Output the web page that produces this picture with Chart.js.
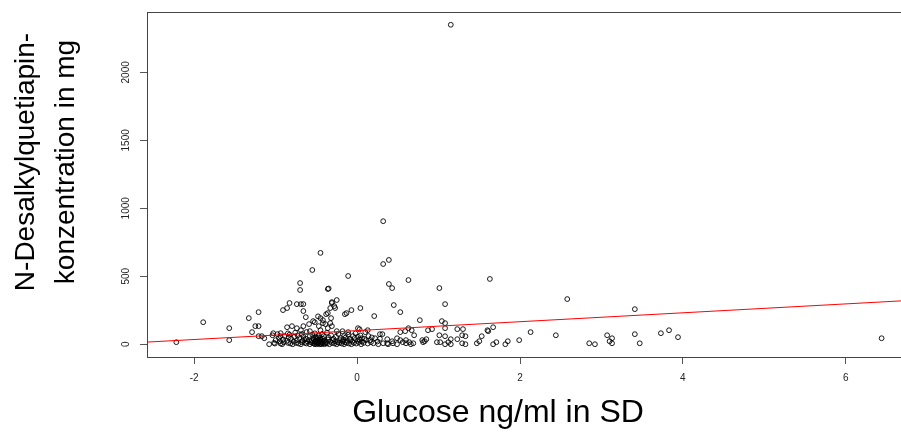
<!DOCTYPE html>
<html><head><meta charset="utf-8">
<script src="https://cdn.jsdelivr.net/npm/chart.js@4/dist/chart.umd.min.js"></script>
<style>html,body{margin:0;padding:0;background:#fff;overflow:hidden;width:901px;height:437px}canvas{display:block}</style>
</head><body>
<canvas id="c" width="920" height="437"></canvas>
<script>
// Glucose (SD units) per patient
const glucoseSD = [
 -2.22,-1.89,-1.57,-1.57,-1.33,-1.21,-1.25,-1.21,-1.29,-1.21,
 -1.17,-1.14,-1.08,-1.04,-1.03,-1.01,-0.98,-0.94,-0.91,-0.86,
 -0.83,-0.86,-0.80,-0.74,-0.69,-0.66,-0.66,-0.63,-0.70,-0.70,
 -0.55,-0.45,-0.36,-0.35,-0.11,-0.31,-0.28,-0.25,-0.33,-0.38,
 -0.32,-0.15,-0.07,0.04,0.21,-0.45,-0.42,-0.42,-0.59,-0.54,
 0.01,0.28,-0.31,-0.27,-0.13,-0.36,-0.48,-0.39,-0.33,-0.31,
 -0.47,-0.52,-0.66,-0.74,-0.69,-0.58,-0.45,-0.36,-0.25,0.03,
 -0.94,-0.18,-0.11,0.10,0.13,1.15,0.32,0.32,0.39,0.39,
 0.43,0.63,0.45,0.53,1.01,1.08,1.63,2.58,3.41,0.77,
 1.04,1.08,0.87,0.92,1.23,1.30,1.60,1.67,2.13,2.44,
 2.85,2.92,3.07,3.13,3.10,3.13,3.41,3.47,3.73,3.83,
 3.94,6.44,1.01,1.08,1.15,1.23,1.29,1.33,1.29,1.33,
 0.98,1.02,1.08,1.12,1.15,0.81,0.83,1.47,1.50,1.53,
 1.67,1.71,1.82,1.85,1.99,1.61,1.08,0.53,0.59,0.63,
 0.67,0.70,0.49,0.53,0.60,0.64,0.66,0.49,0.43,0.37,
 0.38,0.31,0.32,0.22,0.11,0.06,0.16,0.20,0.37,0.44,
 0.56,0.60,0.69,0.80,0.85,
 -1.00,-1.02,-0.95,-0.96,-0.94,-0.90,-0.91,-0.89,-0.92,-0.85,
 -0.86,-0.84,-0.85,-0.82,-0.81,-0.83,-0.78,-0.79,-0.77,-0.75,
 -0.74,-0.76,-0.72,-0.71,-0.73,-0.68,-0.67,-0.69,-0.68,-0.65,
 -0.64,-0.66,-0.62,-0.61,-0.63,-0.62,-0.58,-0.57,-0.59,-0.58,
 -0.55,-0.56,-0.54,-0.55,-0.52,-0.53,-0.51,-0.52,-0.53,-0.51,
 -0.52,-0.50,-0.49,-0.50,-0.51,-0.50,-0.48,-0.47,-0.48,-0.49,
 -0.48,-0.47,-0.46,-0.45,-0.46,-0.47,-0.46,-0.44,-0.43,-0.44,
 -0.44,-0.45,-0.43,-0.42,-0.41,-0.42,-0.40,-0.39,-0.40,-0.41,
 -0.37,-0.38,-0.36,-0.37,-0.34,-0.33,-0.35,-0.31,-0.30,-0.32,
 -0.28,-0.27,-0.29,-0.25,-0.24,-0.26,-0.22,-0.21,-0.23,-0.19,
 -0.18,-0.20,-0.16,-0.15,-0.17,-0.16,-0.13,-0.12,-0.14,-0.10,
 -0.09,-0.11,-0.07,-0.06,-0.08,-0.04,-0.03,-0.05,-0.01,0.00,
 -0.02,0.02,0.03,0.01,0.05,0.06,0.04,0.08,0.09,0.13,
 0.14,0.17,0.18,0.25,0.26,0.28
];
// N-Desalkylquetiapin concentration (mg) per patient
const concentration = [
 15,162,118,30,192,236,133,133,89,59,
 59,44,0,66,81,5,74,59,251,266,
 303,125,133,295,295,295,244,199,450,399,
 546,672,406,410,502,303,280,325,266,221,
 192,221,251,266,207,192,177,155,148,170,
 118,74,310,266,229,229,205,148,155,133,
 133,162,133,118,103,96,103,118,96,110,
 81,96,89,89,103,2350,905,590,620,443,
 413,472,288,236,413,295,480,332,258,177,
 170,155,103,111,111,111,103,125,89,66,
 7,0,66,44,22,7,74,7,81,103,
 52,44,66,59,37,37,66,59,7,0,
 15,15,0,15,0,15,22,7,22,59,
 0,15,0,22,30,96,118,89,96,118,
 103,66,44,30,30,15,0,0,22,37,
 0,74,7,44,30,44,30,7,7,7,
 15,7,7,30,37,
 30,10,20,45,5,15,35,60,0,10,
 25,50,80,5,40,70,20,0,55,10,
 30,85,5,45,65,15,25,0,75,35,
 10,55,5,20,40,90,0,15,30,60,
 10,25,45,70,0,5,15,20,35,55,
 80,0,10,20,25,40,5,10,15,30,
 50,65,0,5,20,25,35,0,10,15,
 30,45,75,5,20,40,0,10,25,60,
 5,15,35,85,0,20,50,10,30,65,
 5,20,40,0,15,55,10,30,75,5,
 20,45,0,15,35,60,10,25,50,5,
 40,70,0,20,30,10,45,60,5,25,
 80,15,35,55,0,20,65,10,40,5,
 60,15,50,20,0,40
];
// Fitted regression line end points
const fitX = [-2.6, 6.9];
const fitY = [15, 326];

const xTicks = [-2, 0, 2, 4, 6];
const yTicks = [0, 500, 1000, 1500, 2000];
const xTitle = 'Glucose ng/ml in SD';
const yTitleLines = ['N-Desalkylquetiapin-', 'konzentration in mg'];

const FONT = '"Liberation Sans", Arial, sans-serif';

const points = glucoseSD.map((x, i) => ({x: x, y: concentration[i]}));
const fitLine = fitX.map((x, i) => ({x: x, y: fitY[i]}));

const framePlugin = {
  id: 'frame',
  afterDraw(chart) {
    const {ctx, chartArea: a, scales: {y}} = chart;
    ctx.save();
    ctx.strokeStyle = '#444';
    ctx.lineWidth = 1;
    ctx.strokeRect(Math.round(a.left) + 0.5, Math.round(a.top) + 0.5,
                   Math.round(a.right - a.left), Math.round(a.bottom - a.top));
    ctx.fillStyle = '#222';
    ctx.font = '10px ' + FONT;
    ctx.textAlign = 'center';
    ctx.textBaseline = 'middle';
    yTicks.forEach(v => {
      const py = y.getPixelForValue(v);
      ctx.save();
      ctx.translate(a.left - 21, py);
      ctx.rotate(-Math.PI / 2);
      ctx.fillText(String(v), 0, 0);
      ctx.restore();
    });
    ctx.fillStyle = '#000';
    ctx.font = '32px ' + FONT;
    ctx.textAlign = 'center';
    ctx.textBaseline = 'middle';
    ctx.fillText(xTitle, 498, 413);
    ctx.font = '28px ' + FONT;
    [26, 66].forEach((px, i) => {
      ctx.save();
      ctx.translate(px, 162);
      ctx.rotate(-Math.PI / 2);
      ctx.fillText(yTitleLines[i], 0, 0);
      ctx.restore();
    });
    ctx.restore();
  }
};

new Chart(document.getElementById('c'), {
  type: 'scatter',
  data: {
    datasets: [
      {
        data: fitLine, showLine: true, borderColor: '#ff0000', borderWidth: 1,
        pointRadius: 0, fill: false, tension: 0
      },
      {
        data: points, pointStyle: 'circle', pointRadius: 2.4,
        borderColor: '#000', backgroundColor: 'rgba(0,0,0,0)', borderWidth: 0.9
      }
    ]
  },
  options: {
    responsive: false,
    animation: false,
    events: [],
    layout: {padding: {left: 0, top: 12, right: 5, bottom: 0}},
    plugins: {legend: {display: false}, tooltip: {enabled: false}, title: {display: false}},
    scales: {
      x: {
        type: 'linear', min: -2.58, max: 6.85,
        afterBuildTicks: s => { s.ticks = xTicks.map(v => ({value: v})); },
        afterFit: s => { s.height = 80; },
        grid: {drawOnChartArea: false, drawTicks: true, tickLength: 7, color: '#555'},
        border: {display: false},
        ticks: {font: {size: 10, family: FONT}, color: '#222', padding: 8, maxRotation: 0, minRotation: 0,
                callback: v => String(v)}
      },
      y: {
        type: 'linear', min: -94, max: 2444,
        afterBuildTicks: s => { s.ticks = yTicks.map(v => ({value: v})); },
        afterFit: s => { s.width = 147; },
        grid: {drawOnChartArea: false, drawTicks: true, tickLength: 7, color: '#555'},
        border: {display: false},
        ticks: {display: false}
      }
    }
  },
  plugins: [framePlugin]
});
</script>
</body></html>
